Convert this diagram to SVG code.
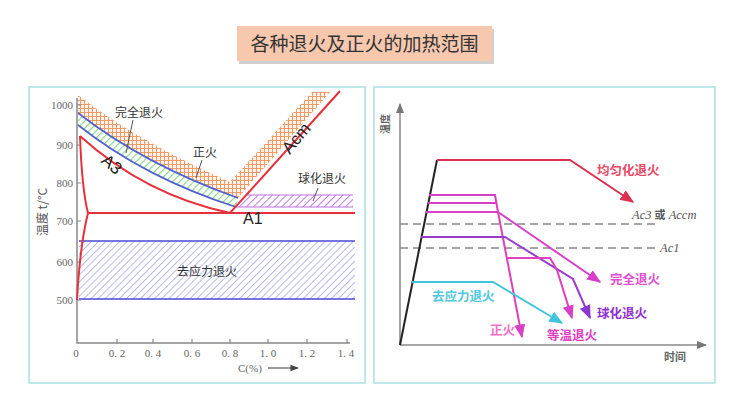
<svg xmlns="http://www.w3.org/2000/svg" width="740" height="415" viewBox="0 0 740 415">
<style>
.cn{font-family:"Noto Sans CJK SC","Noto Sans",sans-serif}
.lab{font-family:"Noto Sans CJK SC","Noto Sans",sans-serif;font-size:12px;fill:#333}
.num{font-family:"Liberation Serif",serif;font-size:11px;fill:#666}
.red{fill:none;stroke:#e8303c;stroke-width:2}
.blue{fill:none;stroke:#5060d0;stroke-width:1.6}
.lead{fill:none;stroke:#555;stroke-width:1}
.ax{fill:none;stroke:#888;stroke-width:1.5}
.dash{fill:none;stroke:#888;stroke-width:1.6;stroke-dasharray:8 5}
.rl{font-family:"Noto Sans CJK SC","Noto Sans",sans-serif;font-size:12.5px;font-weight:bold}
.ac{font-family:"Liberation Serif",serif;font-style:italic;font-size:12.5px;fill:#555}
</style>
<defs>
<pattern id="pOr" width="4" height="4" patternUnits="userSpaceOnUse">
<rect width="4" height="4" fill="#fff4ec"/>
<path d="M0,0H4M0,0V4" stroke="#f09a66" stroke-width="2"/>
</pattern>
<pattern id="pGr" width="5" height="5" patternUnits="userSpaceOnUse" patternTransform="rotate(45)">
<rect width="5" height="5" fill="#fff"/>
<path d="M0,0V5" stroke="#8ad88a" stroke-width="2.4"/>
</pattern>
<pattern id="pPu" width="5" height="5" patternUnits="userSpaceOnUse" patternTransform="rotate(45)">
<rect width="5" height="5" fill="#fff"/>
<path d="M0,0V5" stroke="#c67ce8" stroke-width="2"/>
</pattern>
<pattern id="pBl" width="5" height="5" patternUnits="userSpaceOnUse" patternTransform="rotate(45)">
<rect width="5" height="5" fill="#fff"/>
<path d="M0,0V5" stroke="#9494e4" stroke-width="1.3"/>
</pattern>
<marker id="mR" viewBox="0 0 10 10" refX="9" refY="5" markerWidth="7" markerHeight="7" orient="auto"><path d="M0,1L10,5L0,9z" fill="#e03050"/></marker>
<marker id="mM" viewBox="0 0 10 10" refX="9" refY="5" markerWidth="7" markerHeight="7" orient="auto"><path d="M0,1L10,5L0,9z" fill="#d840c8"/></marker>
<marker id="mP" viewBox="0 0 10 10" refX="9" refY="5" markerWidth="7" markerHeight="7" orient="auto"><path d="M0,1L10,5L0,9z" fill="#8a38d0"/></marker>
<marker id="mC" viewBox="0 0 10 10" refX="9" refY="5" markerWidth="7" markerHeight="7" orient="auto"><path d="M0,1L10,5L0,9z" fill="#40c4de"/></marker>
<marker id="mG" viewBox="0 0 10 10" refX="9" refY="5" markerWidth="7" markerHeight="7" orient="auto"><path d="M0,1L10,5L0,9z" fill="#777"/></marker>
<marker id="mK" viewBox="0 0 10 10" refX="9" refY="5" markerWidth="7" markerHeight="7" orient="auto"><path d="M0,1L10,5L0,9z" fill="#444"/></marker>
</defs>
<rect width="740" height="415" fill="#fff"/>

<g id="title">
<rect x="239" y="29" width="255" height="35" fill="#d0d0d0"/>
<rect x="237" y="26" width="255" height="35" fill="#f7c7ae"/>
<text x="364.5" y="50.5" text-anchor="middle" class="cn" font-size="19" fill="#333">各种退火及正火的加热范围</text>
</g>

<g id="left-panel">
<rect x="29" y="87" width="336" height="296" fill="#fff" stroke="#a8dfe2" stroke-width="1.5"/>
<path d="M78,95 Q135,140 230,182 L312,92 L330,92 L238,198 Q145,165 78,113 Z" fill="url(#pOr)"/>
<path d="M78,113 Q145,165 238,198 L236,207 Q145,178 78,125 Z" fill="url(#pGr)"/>
<path class="blue" d="M78,113 Q145,165 238,198"/>
<path class="blue" d="M78,125 Q145,178 236,207"/>
<path d="M236,207 L246,195 H353 V207 Z" fill="url(#pPu)"/>
<path d="M246,195 H353 M236,207 H353" stroke="#c070e0" stroke-width="1.2" fill="none"/>
<rect x="79" y="241" width="276" height="58" fill="url(#pBl)"/>
<path d="M79,241 H355 M79,299 H355" stroke="#4a4ad8" stroke-width="1.3" fill="none"/>
<path class="ax" d="M77,98 V343 H350"/>
<path d="M77,105h4M77,145h4M77,183h4M77,221h4M77,262h4M77,300h4M117,343v-4M153,343v-4M192,343v-4M230,343v-4M268,343v-4M307,343v-4M347,343v-4" stroke="#888" stroke-width="1.2"/>
<path class="red" d="M80,136 Q145,195 230,213 L340,91"/>
<path class="red" d="M80,136 Q82,190 88,213 Q80,245 77,300"/>
<path class="red" d="M88,213 H355"/>
<path class="lead" d="M133,120 L126,153 M202,160 L196,178 M318,188 L313,201"/>
<text class="lab" x="115" y="117">完全退火</text>
<text class="lab" x="193" y="157">正火</text>
<text class="lab" x="298" y="183">球化退火</text>
<text class="lab" x="177" y="276">去应力退火</text>
<text x="112" y="170" font-family="Liberation Sans,sans-serif" font-size="17" fill="#222" text-anchor="middle" transform="rotate(40 112 164)">A3</text>
<text x="296" y="144" font-family="Liberation Sans,sans-serif" font-size="17" fill="#222" text-anchor="middle" transform="rotate(-50 296 138)">Acm</text>
<text x="243" y="224" font-family="Liberation Sans,sans-serif" font-size="16" fill="#222">A1</text>
<g class="num" text-anchor="end">
<text x="73" y="109">1000</text>
<text x="73" y="149">900</text>
<text x="73" y="187">800</text>
<text x="73" y="225">700</text>
<text x="73" y="266">600</text>
<text x="73" y="304">500</text>
</g>
<g class="num" text-anchor="middle">
<text x="76" y="357">0</text>
<text x="117" y="357">0. 2</text>
<text x="153" y="357">0. 4</text>
<text x="192" y="357">0. 6</text>
<text x="230" y="357">0. 8</text>
<text x="268" y="357">1. 0</text>
<text x="307" y="357">1. 2</text>
<text x="346" y="357">1. 4</text>
</g>
<text class="num" x="238" y="372">C(%)</text>
<path d="M268,368 H298" stroke="#555" stroke-width="1.2" marker-end="url(#mK)"/>
<text x="43" y="216" text-anchor="middle" class="cn" font-size="12" fill="#555" transform="rotate(-90 43 212)">温度 t/°C</text>
</g>

<g id="right-panel">
<rect x="374" y="87" width="341" height="296" fill="#fff" stroke="#a8dfe2" stroke-width="1.5"/>
<path class="ax" d="M400,345 V104" marker-end="url(#mG)"/>
<path class="ax" d="M400,345 H706" marker-end="url(#mG)"/>
<text x="385" y="128" text-anchor="middle" class="cn" font-size="10" font-weight="bold" fill="#666" transform="rotate(-90 385 124)">温度</text>
<text x="664" y="361" class="cn" font-size="11" font-weight="bold" fill="#666">时间</text>
<path class="dash" d="M400,224 H655"/>
<path class="dash" d="M400,248 H655"/>
<text class="ac" x="632" y="219">Ac3 <tspan font-family="Noto Sans CJK SC,sans-serif" font-style="normal" font-weight="bold" font-size="11">或</tspan> Accm</text>
<text class="ac" x="660" y="252">Ac1</text>
</g>

<g id="curves">
<path d="M400,345 L437,160" stroke="#222" stroke-width="2" fill="none"/>
<path d="M437,160 H570 L633,202" stroke="#e03050" stroke-width="2" fill="none" marker-end="url(#mR)"/>
<path d="M429,195 H495 L498,212 M428,203 H496 M426,212 H498" stroke="#d840c8" stroke-width="2" fill="none"/>
<path d="M498,212 L600,282" stroke="#d840c8" stroke-width="2" fill="none" marker-end="url(#mM)"/>
<path d="M498,212 L522,337" stroke="#e040b8" stroke-width="2" fill="none" marker-end="url(#mM)"/>
<path d="M421,237 H505 L573,279 L590,318" stroke="#9a3cd0" stroke-width="2" fill="none" marker-end="url(#mP)"/>
<path d="M507,258 H550 L557,270 L572,318" stroke="#e040c0" stroke-width="2" fill="none" marker-end="url(#mM)"/>
<path d="M412,282 H493 L562,323" stroke="#40c4de" stroke-width="2" fill="none" marker-end="url(#mC)"/>
</g>

<g id="right-labels">
<text class="rl" x="597" y="175" fill="#e84a66">均匀化退火</text>
<text class="rl" x="610" y="284" fill="#e050d0">完全退火</text>
<text class="rl" x="597" y="318" fill="#9030d0">球化退火</text>
<text class="rl" x="432" y="301" fill="#50c8e0">去应力退火</text>
<text class="rl" x="490" y="335" fill="#f070c8">正火</text>
<text class="rl" x="547" y="340" fill="#e040c0">等温退火</text>
</g>
</svg>
